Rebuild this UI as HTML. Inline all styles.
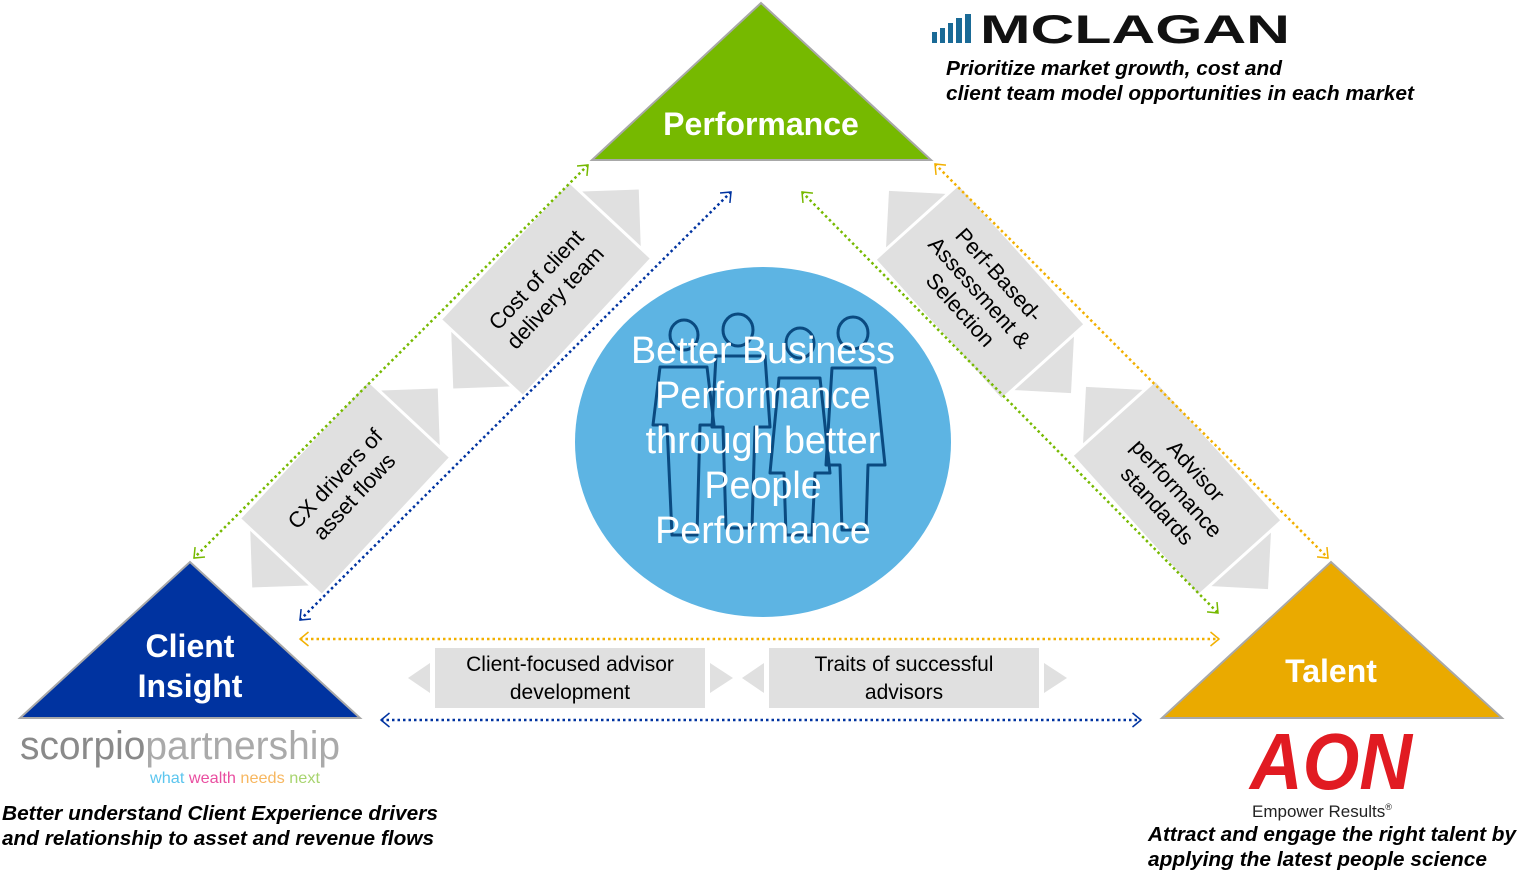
<!DOCTYPE html>
<html><head><meta charset="utf-8"><style>
html,body{margin:0;padding:0;background:#fff;}
svg{display:block;font-family:"Liberation Sans",sans-serif;}
</style></head><body>
<svg width="1518" height="870" viewBox="0 0 1518 870" xmlns="http://www.w3.org/2000/svg">
<defs>
<marker id="mg" viewBox="0 0 10 10" refX="9" refY="5" markerWidth="5" markerHeight="5" orient="auto-start-reverse" markerUnits="userSpaceOnUse" style="overflow:visible"><path d="M-8,-9 L9,5 L-8,19" fill="none" stroke="#76b900" stroke-width="3"/></marker>
<marker id="mb" viewBox="0 0 10 10" refX="9" refY="5" markerWidth="5" markerHeight="5" orient="auto-start-reverse" markerUnits="userSpaceOnUse" style="overflow:visible"><path d="M-8,-9 L9,5 L-8,19" fill="none" stroke="#0033a0" stroke-width="3"/></marker>
<marker id="my" viewBox="0 0 10 10" refX="9" refY="5" markerWidth="5" markerHeight="5" orient="auto-start-reverse" markerUnits="userSpaceOnUse" style="overflow:visible"><path d="M-8,-9 L9,5 L-8,19" fill="none" stroke="#f2b000" stroke-width="3"/></marker>
<g id="dbl">
<rect x="-93" y="-55" width="186" height="110" fill="#e0e0e0"/>
<polygon points="96,-40 96,40 136,0" fill="#e0e0e0"/>
<polygon points="-96,-40 -96,40 -136,0" fill="#e0e0e0"/>
</g>
</defs>

<g transform="translate(546,289) rotate(-47)"><use href="#dbl"/>
<text x="0" y="-6" font-size="22" text-anchor="middle" fill="#000">Cost of client</text>
<text x="0" y="20" font-size="22" text-anchor="middle" fill="#000">delivery team</text></g>
<g transform="translate(345,488) rotate(-47)"><use href="#dbl"/>
<text x="0" y="-6" font-size="22" text-anchor="middle" fill="#000">CX drivers of</text>
<text x="0" y="20" font-size="22" text-anchor="middle" fill="#000">asset flows</text></g>
<g transform="translate(980,292) rotate(48)"><use href="#dbl"/>
<text x="0" y="-18" font-size="22" text-anchor="middle" fill="#000">Perf-Based-</text>
<text x="0" y="8" font-size="22" text-anchor="middle" fill="#000">Assessment &amp;</text>
<text x="0" y="34" font-size="22" text-anchor="middle" fill="#000">Selection</text></g>
<g transform="translate(1177,488) rotate(48)"><use href="#dbl"/>
<text x="0" y="-18" font-size="22" text-anchor="middle" fill="#000">Advisor</text>
<text x="0" y="8" font-size="22" text-anchor="middle" fill="#000">performance</text>
<text x="0" y="34" font-size="22" text-anchor="middle" fill="#000">standards</text></g>

<rect x="435" y="648" width="270" height="60" fill="#e0e0e0"/>
<polygon points="430,663 430,693 408,678" fill="#e0e0e0"/>
<polygon points="710,663 710,693 733,678" fill="#e0e0e0"/>
<text x="570" y="671" font-size="21" text-anchor="middle">Client-focused advisor</text>
<text x="570" y="699" font-size="21" text-anchor="middle">development</text>
<rect x="769" y="648" width="270" height="60" fill="#e0e0e0"/>
<polygon points="764,663 764,693 742,678" fill="#e0e0e0"/>
<polygon points="1044,663 1044,693 1067,678" fill="#e0e0e0"/>
<text x="904" y="671" font-size="21" text-anchor="middle">Traits of successful</text>
<text x="904" y="699" font-size="21" text-anchor="middle">advisors</text>

<g fill="none" stroke-width="2.5" stroke-dasharray="2.5 3">
<line x1="588" y1="165" x2="194" y2="558" stroke="#76b900" marker-start="url(#mg)" marker-end="url(#mg)"/>
<line x1="731" y1="192" x2="300" y2="620" stroke="#0033a0" marker-start="url(#mb)" marker-end="url(#mb)"/>
<line x1="802" y1="192" x2="1218" y2="613" stroke="#76b900" marker-start="url(#mg)" marker-end="url(#mg)"/>
<line x1="935" y1="164" x2="1328" y2="558" stroke="#f2b000" marker-start="url(#my)" marker-end="url(#my)"/>
<line x1="300" y1="639" x2="1219" y2="639" stroke="#f2b000" marker-start="url(#my)" marker-end="url(#my)"/>
<line x1="381" y1="720" x2="1141" y2="720" stroke="#0033a0" marker-start="url(#mb)" marker-end="url(#mb)"/>
</g>

<polygon points="761,3 931,160 592,160" fill="#76b900" stroke="#a8a8a8" stroke-width="2"/>
<text x="761" y="135" font-size="32" font-weight="bold" fill="#fff" text-anchor="middle">Performance</text>
<polygon points="190,562 360,718 20,718" fill="#0033a0" stroke="#a8a8a8" stroke-width="2"/>
<text x="190" y="657" font-size="32" font-weight="bold" fill="#fff" text-anchor="middle">Client</text>
<text x="190" y="697" font-size="32" font-weight="bold" fill="#fff" text-anchor="middle">Insight</text>
<polygon points="1331,562 1502,718 1162,718" fill="#eaaa00" stroke="#a8a8a8" stroke-width="2"/>
<text x="1331" y="682" font-size="32" font-weight="bold" fill="#fff" text-anchor="middle">Talent</text>

<ellipse cx="763" cy="442" rx="188" ry="175" fill="#5db4e3"/>
<g fill="none" stroke="#0a4a80" stroke-width="3" stroke-linejoin="round">
<ellipse cx="684" cy="335" rx="14" ry="15"/>
<path d="M660,367 L707,367 L714,425 L700,425 L697,535 L672,535 L667,425 L653,425 Z"/>
<ellipse cx="738" cy="330" rx="15" ry="16"/>
<path d="M716,356 L765,356 L770,427 L755,427 L752,528 L726,528 L723,427 L712,427 Z"/>
<ellipse cx="800" cy="343" rx="14" ry="15"/>
<path d="M779,378 L820,378 L830,473 L815,473 L812,535 L786,535 L784,473 L770,473 Z"/>
<ellipse cx="853" cy="333" rx="15" ry="16"/>
<path d="M832,368 L875,368 L885,465 L868,465 L866,530 L842,530 L840,465 L826,465 Z"/>
</g>
<g font-size="37.7" fill="#fff" text-anchor="middle">
<text x="763" y="363">Better Business</text>
<text x="763" y="408">Performance</text>
<text x="763" y="453">through better</text>
<text x="763" y="498">People</text>
<text x="763" y="543">Performance</text>
</g>

<g fill="#1a6a96">
<rect x="932" y="32" width="5" height="11"/><rect x="940" y="28" width="5" height="15"/><rect x="948" y="23" width="5" height="20"/><rect x="956" y="18" width="6" height="25"/><rect x="965" y="14" width="6" height="29"/>
</g>
<text x="980" y="43" font-size="40" font-weight="bold" fill="#111" textLength="310" lengthAdjust="spacingAndGlyphs">MCLAGAN</text>
<text x="946" y="75" font-size="20" font-weight="bold" font-style="italic" textLength="336" lengthAdjust="spacingAndGlyphs">Prioritize market growth, cost and</text>
<text x="946" y="100" font-size="20" font-weight="bold" font-style="italic" textLength="468" lengthAdjust="spacingAndGlyphs">client team model opportunities in each market</text>

<text x="20" y="759" font-size="40" fill="#8a8a8a" font-weight="300" textLength="320" lengthAdjust="spacingAndGlyphs">scorpio<tspan fill="#aaa">partnership</tspan></text>
<text x="150" y="783" font-size="16" textLength="170" lengthAdjust="spacingAndGlyphs"><tspan fill="#5bc5ee">what </tspan><tspan fill="#e94ea0">wealth </tspan><tspan fill="#f7b760">needs </tspan><tspan fill="#a8d46f">next</tspan></text>
<text x="2" y="820" font-size="20" font-weight="bold" font-style="italic" textLength="436" lengthAdjust="spacingAndGlyphs">Better understand Client Experience drivers</text>
<text x="2" y="845" font-size="20" font-weight="bold" font-style="italic" textLength="432" lengthAdjust="spacingAndGlyphs">and relationship to asset and revenue flows</text>

<text x="1250" y="789" font-size="80" font-weight="bold" font-style="italic" fill="#e11b22" textLength="162" lengthAdjust="spacingAndGlyphs">AON</text>
<text x="1252" y="817" font-size="17" fill="#222">Empower Results<tspan font-size="9" dy="-7">®</tspan></text>
<text x="1148" y="841" font-size="20" font-weight="bold" font-style="italic" textLength="368" lengthAdjust="spacingAndGlyphs">Attract and engage the right talent by</text>
<text x="1148" y="866" font-size="20" font-weight="bold" font-style="italic" textLength="339" lengthAdjust="spacingAndGlyphs">applying the latest people science</text>
</svg>
</body></html>
